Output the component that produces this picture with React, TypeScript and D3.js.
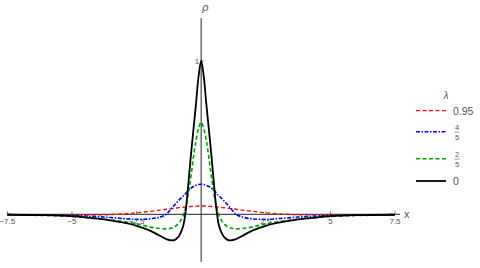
import * as d3 from 'd3';
import React, { useEffect, useRef } from 'react';

// sample positions (x) shared by every curve
const xValues = [
  -7.5, -6, -5, -4.5, -3.75, -3, -2.5, -2, -1.6, -1.35, -1.15, -1, -0.85, -0.7, -0.6, -0.5, -0.4, -0.3, -0.2, -0.1,
  0,
  0.1, 0.2, 0.3, 0.4, 0.5, 0.6, 0.7, 0.85, 1, 1.15, 1.35, 1.6, 2, 2.5, 3, 3.75, 4.5, 5, 6, 7.5,
];

// rho, one array per lambda
const rho095 = [
  -0.002, -0.003, -0.004, -0.004, -0.003, 0.003, 0.01, 0.019, 0.027, 0.033, 0.037, 0.04, 0.043, 0.046, 0.048, 0.05, 0.051, 0.052, 0.053, 0.054,
  0.054,
  0.054, 0.053, 0.052, 0.051, 0.05, 0.048, 0.046, 0.043, 0.04, 0.037, 0.033, 0.027, 0.019, 0.01, 0.003, -0.003, -0.004, -0.004, -0.003, -0.002,
];
const rho45 = [
  -0.002, -0.005, -0.008, -0.011, -0.018, -0.028, -0.033, -0.03, -0.018, 0.0, 0.038, 0.066, 0.094, 0.118, 0.135, 0.157, 0.17, 0.181, 0.189, 0.194,
  0.196,
  0.194, 0.189, 0.181, 0.17, 0.157, 0.135, 0.118, 0.094, 0.066, 0.038, 0.0, -0.018, -0.03, -0.033, -0.028, -0.018, -0.011, -0.008, -0.005, -0.002,
];
const rho25 = [
  -0.004, -0.008, -0.015, -0.02, -0.032, -0.048, -0.062, -0.082, -0.093, -0.095, -0.09, -0.078, -0.055, -0.01, 0.045, 0.13, 0.24, 0.37, 0.48, 0.56,
  0.6,
  0.56, 0.48, 0.37, 0.24, 0.13, 0.045, -0.01, -0.055, -0.078, -0.09, -0.095, -0.093, -0.082, -0.062, -0.048, -0.032, -0.02, -0.015, -0.008, -0.004,
];
const rho0 = [
  -0.003, -0.006, -0.012, -0.02, -0.033, -0.055, -0.075, -0.105, -0.14, -0.162, -0.17, -0.165, -0.14, -0.08, 0.02, 0.19, 0.38, 0.55, 0.72, 0.9,
  1.0,
  0.9, 0.72, 0.55, 0.38, 0.19, 0.02, -0.08, -0.14, -0.165, -0.17, -0.162, -0.14, -0.105, -0.075, -0.055, -0.033, -0.02, -0.012, -0.006, -0.003,
];

const xTicks = [-7.5, -5, -2.5, 2.5, 5, 7.5];
const yTicks = [1];

const seriesList = [
  { num: '0.95', den: '', values: rho095, color: '#ff0000', dash: '4,2.5', width: 1.3 },
  { num: '4', den: '5', values: rho45, color: '#0000ff', dash: '4,1.5,1.5,1.5', width: 1.6 },
  { num: '2', den: '5', values: rho25, color: '#00a000', dash: '4,2.5', width: 1.6 },
  { num: '0', den: '', values: rho0, color: '#000000', dash: '', width: 1.8 },
];

const App = () => {
  const ref = useRef<SVGSVGElement>(null);

  useEffect(() => {
    const svg = d3.select(ref.current);
    svg.selectAll('*').remove();

    const x = d3.scaleLinear().domain([-7.5, 7.5]).range([7.3, 395]);
    const y = d3.scaleLinear().domain([0, 1]).range([214.3, 61]);
    const font = 'Liberation Sans, Arial, sans-serif';
    const grey = '#555';

    // axes
    svg.append('line')
      .attr('x1', x(-7.5)).attr('x2', 400)
      .attr('y1', y(0)).attr('y2', y(0))
      .attr('stroke', '#222').attr('stroke-width', 1);
    svg.append('line')
      .attr('x1', x(0)).attr('x2', x(0))
      .attr('y1', 18).attr('y2', 262)
      .attr('stroke', '#222').attr('stroke-width', 1);

    svg.selectAll('.xtick')
      .data(xTicks)
      .enter().append('line')
      .attr('x1', (d) => x(d)).attr('x2', (d) => x(d))
      .attr('y1', y(0) - 3).attr('y2', y(0))
      .attr('stroke', '#555').attr('stroke-width', 0.8);

    svg.selectAll('.ytick')
      .data(yTicks)
      .enter().append('line')
      .attr('x1', x(0)).attr('x2', x(0) + 3)
      .attr('y1', (d) => y(d)).attr('y2', (d) => y(d))
      .attr('stroke', '#555').attr('stroke-width', 0.8);

    // curves
    const line = d3.line<number>()
      .x((d, i) => x(xValues[i]))
      .y((d) => y(d))
      .curve(d3.curveCatmullRom.alpha(0.5));

    seriesList.forEach((s) => {
      svg.append('path')
        .attr('d', line(s.values))
        .attr('fill', 'none')
        .attr('stroke', s.color)
        .attr('stroke-width', s.width)
        .attr('stroke-dasharray', s.dash || null);
    });

    // tick labels on top of the curves
    svg.selectAll('.xlabel')
      .data(xTicks)
      .enter().append('text')
      .attr('x', (d) => x(d))
      .attr('y', y(0) + 10)
      .attr('text-anchor', 'middle')
      .style('font-family', font).style('font-size', '8px').style('fill', grey)
      .text((d) => (d < 0 ? '\u2212' + Math.abs(d) : String(d)));
    svg.selectAll('.ylabel')
      .data(yTicks)
      .enter().append('text')
      .attr('x', x(0) - 2)
      .attr('y', (d) => y(d) + 3)
      .attr('text-anchor', 'end')
      .style('font-family', font).style('font-size', '8px').style('fill', grey)
      .text((d) => String(d));

    svg.append('text')
      .attr('x', 404).attr('y', y(0) + 4)
      .style('font-family', font).style('font-size', '11px').style('fill', grey)
      .text('x');
    svg.append('text')
      .attr('x', x(0) + 1).attr('y', 11)
      .style('font-family', font).style('font-size', '11px').style('font-style', 'italic').style('fill', grey)
      .text('\u03c1');

    // legend
    const legend = svg.append('g').attr('transform', 'translate(416,0)');
    legend.append('text')
      .attr('x', 30).attr('y', 99)
      .attr('text-anchor', 'middle')
      .style('font-family', font).style('font-size', '10px').style('font-style', 'italic').style('fill', grey)
      .text('\u03bb');
    const rowY = [110.7, 131.7, 158.7, 181];
    seriesList.forEach((s, i) => {
      const g = legend.append('g').attr('transform', `translate(0,${rowY[i]})`);
      g.append('line')
        .attr('x1', 0).attr('x2', 30)
        .attr('stroke', s.color).attr('stroke-width', s.width)
        .attr('stroke-dasharray', s.dash || null);
      if (s.den) {
        g.append('text')
          .attr('x', 41).attr('y', -2)
          .attr('text-anchor', 'middle')
          .style('font-family', font).style('font-size', '7.5px').style('fill', grey)
          .text(s.num);
        g.append('line')
          .attr('x1', 38.5).attr('x2', 43.5)
          .attr('y1', 0.5).attr('y2', 0.5)
          .attr('stroke', grey).attr('stroke-width', 0.6);
        g.append('text')
          .attr('x', 41).attr('y', 8.5)
          .attr('text-anchor', 'middle')
          .style('font-family', font).style('font-size', '7.5px').style('fill', grey)
          .text(s.den);
      } else {
        g.append('text')
          .attr('x', 37).attr('y', 3.8)
          .style('font-family', font).style('font-size', '10.5px').style('fill', grey)
          .text(s.num);
      }
    });
  }, []);

  return (
    <svg
      ref={ref}
      width={480}
      height={268}
      style={{ position: 'absolute', left: 0, top: 0, background: '#fff' }}
    />
  );
};

export default App;
